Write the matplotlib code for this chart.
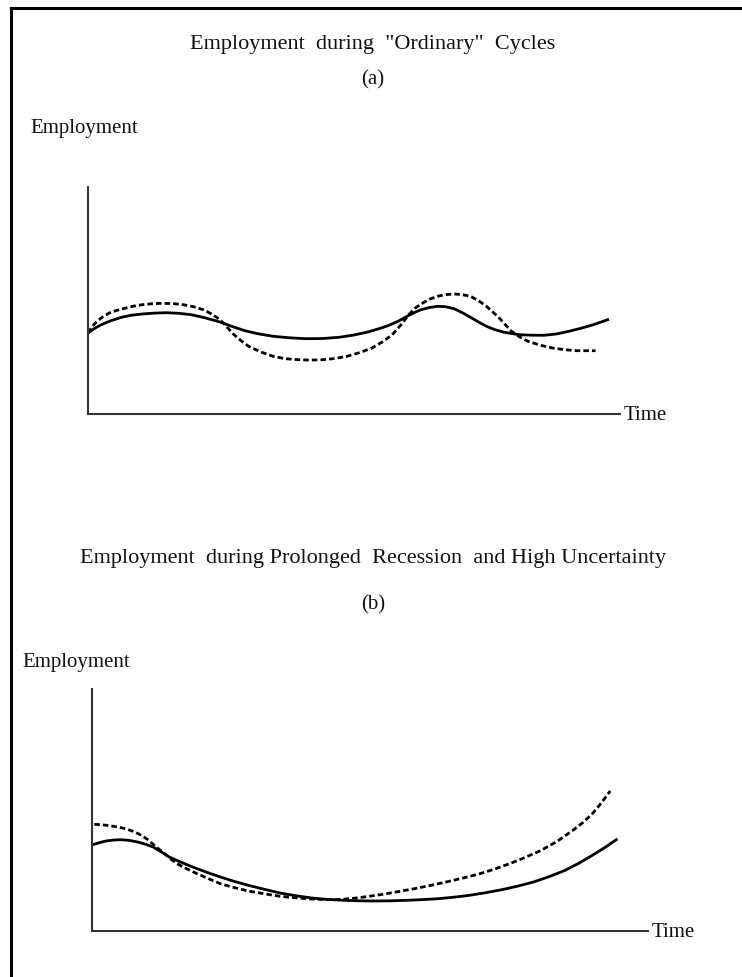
import matplotlib
matplotlib.use("Agg")
import matplotlib.pyplot as plt
from matplotlib.lines import Line2D

plt.rcParams["font.family"] = ["Liberation Serif", "DejaVu Serif"]

# ---- data: panel (a) "ordinary" cycles (time in % of axis, employment level)
a_solid_t = [0, 1.2, 2.5, 4.3, 6.3, 8.2, 10.2, 12.5, 14.8, 17.1, 19.4, 22.0, 24.8, 27.1,
             29.5, 32.0, 34.8, 37.9, 41.0, 44.1, 47.2, 50.0, 52.6, 54.5, 56.4, 58.4,
             60.3, 61.5, 62.6, 64.2, 65.7, 67.2, 68.8, 70.3, 71.9, 73.4, 74.9, 76.4,
             78.0, 79.6, 81.1, 83.4, 85.7, 88.0, 90.4, 92.7, 95.0, 97.7]
a_solid_e = [81, 85.5, 89.3, 93.3, 96.7, 98.8, 100, 100.9, 101.3, 100.7, 99.3, 96.2, 92,
             87.5, 83.3, 80.2, 77.7, 76.2, 75.3, 75.5, 76.7, 79.0, 82, 85.0, 88.3, 93.0,
             98.7, 101.8, 104.3, 106.5, 107.7, 107.3, 105.3, 101.5, 96.7, 92.0, 87.7,
             84.5, 82, 80.5, 79.3, 78.8, 78.7, 80.0, 82.7, 85.8, 89.3, 94.3]
a_dash_t = [0, 0.8, 1.7, 2.8, 4.0, 5.5, 7.1, 8.6, 10.2, 12.1, 14.0, 16.0, 17.9, 19.8,
            21.7, 23.3, 24.8, 26.0, 27.1, 28.6, 30.2, 32.5, 34.8, 37.1, 39.5, 41.8, 44.1,
            46.4, 48.7, 51.0, 53.4, 55.3, 57.2, 58.8, 60.3, 61.4, 62.6, 64.2, 65.7, 67.2,
            68.8, 70.3, 71.9, 73.4, 74.9, 76.1, 77.3, 78.5, 79.6, 81.1, 82.7, 85.0, 87.3,
            89.6, 91.9, 95.4]
a_dash_e = [81, 87.5, 92.7, 97.3, 101, 103.8, 106, 107.9, 109.3, 110.3, 110.7, 110.4,
            109.3, 107.3, 104.3, 99.8, 94.3, 87.8, 81, 74.0, 67.7, 62.0, 57.7, 55.3,
            54.3, 53.9, 54.3, 55.5, 57.7, 61.3, 66, 72.0, 79.3, 89.0, 99.3, 105.5, 110,
            114.8, 117.7, 119.4, 120, 119.4, 117.7, 113.3, 107.7, 102.0, 96, 89.0, 82.7,
            77.2, 72.7, 68.8, 66, 64.3, 63.3, 63.3]

# ---- data: panel (b) prolonged recession
b_solid_t = [0.4, 1.5, 2.5, 3.9, 5.3, 6.8, 8.2, 9.6, 11.0, 12.4, 13.9, 16.0, 18.1, 20.6,
             23.1, 25.6, 28.1, 31.0, 33.8, 36.6, 39.5, 42.3, 45.2, 48.0, 50.9, 53.8,
             56.6, 59.5, 62.3, 65.1, 67.9, 70.8, 73.7, 76.6, 79.4, 82.3, 85.1, 87.6,
             90.0, 92.2, 94.3]
b_solid_e = [86.7, 88.6, 90, 91.0, 91.3, 90.5, 89, 86.8, 84, 79.3, 74, 68.8, 64, 58.8,
             54, 49.6, 45.7, 41.7, 38, 35.3, 33, 31.6, 30.7, 30.2, 30, 30.2, 30.7, 31.4,
             32.3, 33.8, 35.7, 38.3, 41.3, 44.9, 49, 54.5, 60.7, 67.9, 75.7, 83.3, 91.3]
b_dash_t = [0.4, 1.8, 3.2, 4.6, 6.0, 7.5, 8.9, 10.0, 11.0, 12.1, 13.2, 14.2, 15.3, 17.1,
            18.9, 21.0, 23.1, 25.6, 28.1, 31.0, 33.8, 36.6, 39.5, 41.6, 43.8, 45.9, 48.0,
            50.1, 52.3, 55.1, 58.0, 60.9, 63.7, 66.6, 69.4, 72.3, 75.1, 78.0, 80.8, 83.7,
            86.5, 88.3, 90.0, 91.6, 93.2]
b_dash_e = [106.7, 106.2, 105.3, 104.0, 102.3, 99.5, 95.7, 91.5, 86.7, 81.6, 76.7, 71.8,
            67.3, 62.0, 57.3, 52.2, 47.3, 43.4, 40, 37.2, 34.7, 33.2, 32, 31.5, 31.3, 32.1,
            33.3, 34.9, 36.7, 39.4, 42.3, 45.6, 49, 52.8, 56.7, 61.7, 67.3, 73.8, 80.7,
            89.8, 100.7, 108.5, 117.3, 128.0, 140]

W, H = 742, 978
fig = plt.figure(figsize=(W / 100, H / 100), dpi=100)


def px_axes(x0, x1, ytop, ybot):
    return fig.add_axes([x0 / W, 1 - ybot / H, (x1 - x0) / W, (ybot - ytop) / H])


def txt(x, y, s, size, ha="center"):
    fig.text(x / W, 1 - y / H, s, fontsize=size, ha=ha, va="center", color="#111111")


def panel(ax, st, se, dt, de, height):
    ax.plot(st, se, color="black", lw=2.0, solid_joinstyle="round")
    ax.plot(dt, de, color="black", lw=2.0, dashes=(2.0, 1.1))
    ax.set_xlim(0, 100)
    ax.set_ylim(0, height)
    for s in ["top", "right"]:
        ax.spines[s].set_visible(False)
    for s in ["left", "bottom"]:
        ax.spines[s].set_color("#333333")
        ax.spines[s].set_linewidth(1.5)
    ax.set_xticks([])
    ax.set_yticks([])
    ax.patch.set_alpha(0)


# panel (a)
ax1 = px_axes(88, 620, 188, 415)
panel(ax1, a_solid_t, a_solid_e, a_dash_t, a_dash_e, 227)
txt(373, 45, 'Employment  during  "Ordinary"  Cycles', 16)
txt(373, 80, "(a)", 15)
txt(30, 128, "Employment", 15, ha="left")
txt(624, 416, "Time", 15, ha="left")

# panel (b)
ax2 = px_axes(92, 648, 690, 932)
panel(ax2, b_solid_t, b_solid_e, b_dash_t, b_dash_e, 242)
txt(373, 558, "Employment  during Prolonged  Recession  and High Uncertainty", 16)
txt(373, 605, "(b)", 15)
txt(22, 663, "Employment", 15, ha="left")
txt(652, 933, "Time", 15, ha="left")

# frame (left and top edges of the boxed figure)
fig.add_artist(Line2D([11 / W, 11 / W], [0, 1 - 9 / H], color="black", lw=2.2,
                      transform=fig.transFigure))
fig.add_artist(Line2D([11 / W, 1], [1 - 9 / H, 1 - 9 / H], color="black", lw=2.2,
                      transform=fig.transFigure))

fig.savefig("out.png", dpi=100)
